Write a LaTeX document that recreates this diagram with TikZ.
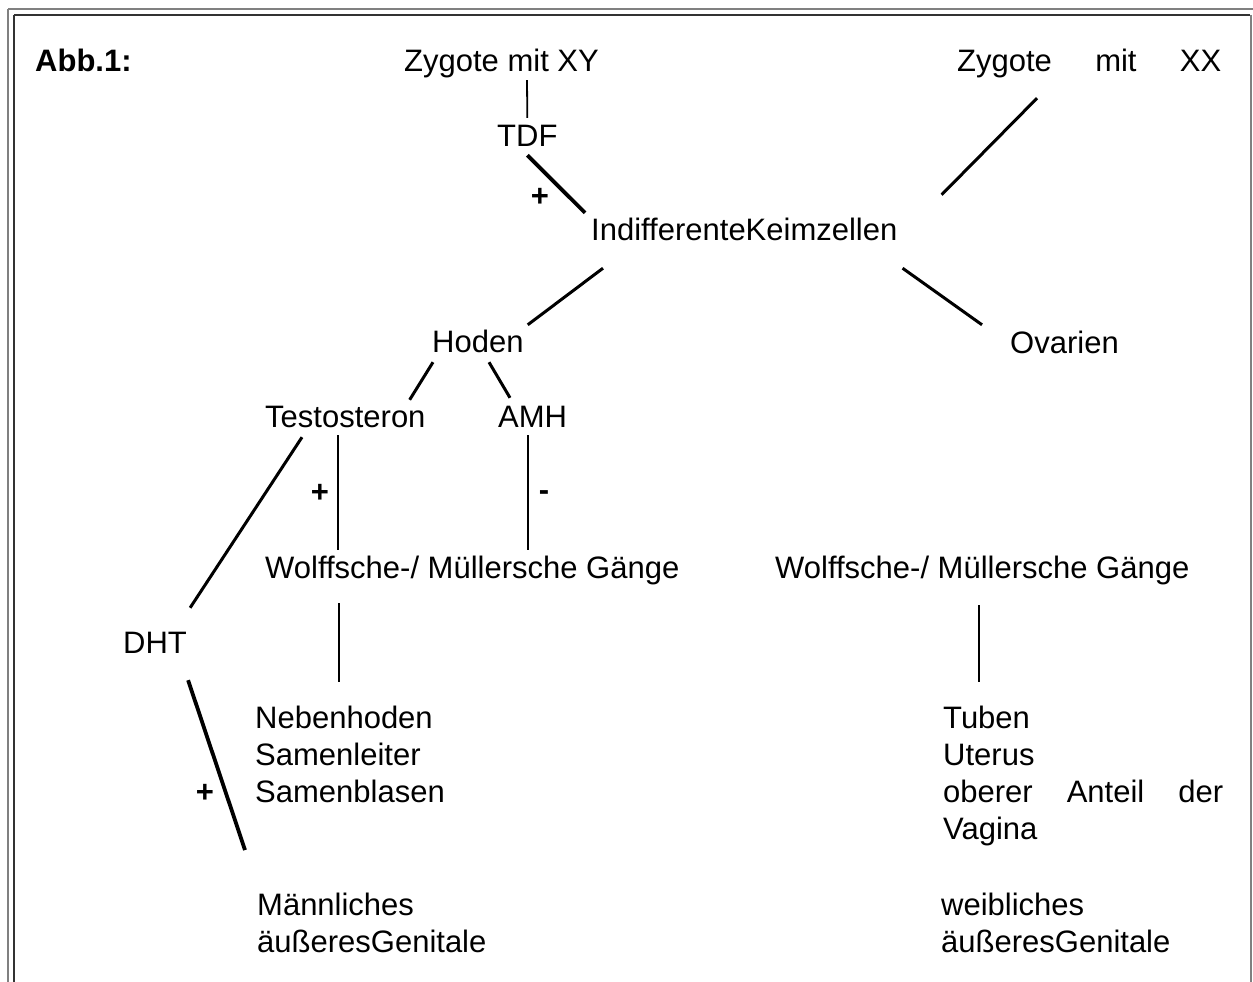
\documentclass[tikz,border=0pt]{standalone}
\usepackage{fontspec}
\setmainfont{Liberation Sans}
\usetikzlibrary{calc}
\begin{document}
\begin{tikzpicture}[x=1pt,y=-1pt,
  lbl/.style={anchor=base west,inner sep=0pt,font=\fontsize{31}{37}\selectfont,text height=23pt,text depth=7pt},
  blk/.style={anchor=base west,inner sep=0pt,font=\fontsize{31}{37}\selectfont},
  sgn/.style={inner sep=0pt,font=\fontsize{31}{37}\selectfont\bfseries},
  thinln/.style={line width=1.8pt,black},
  diag/.style={line width=3pt,black},
  thickln/.style={line width=3.8pt,black},
  framegray/.style={line width=2pt,color=black!50},
  framedark/.style={line width=2pt,color=black!80}]
\useasboundingbox (0,0) rectangle (1253,982);
% frame
\draw[framegray] (8,9.5) -- (1253,9.5);
\draw[framegray] (8,9.5) -- (8,982);
\draw[framedark] (14,15.5) -- (1250,15.5);
\draw[framedark] (14,15.5) -- (14,982);
\draw[framegray] (1251,15) -- (1251,982);
% nodes
\node[lbl,font=\fontsize{31}{37}\selectfont\bfseries] (abb) at (35,72) {Abb.1:};
\node[lbl] (xy) at (404,72) {Zygote mit XY};
\node[lbl] (xx) at (957,72) {\hbox to 264pt{Zygote\hfill mit\hfill XX}};
\node[lbl] (tdf) at (497,146) {TDF};
\node[lbl] (ind) at (591,240) {IndifferenteKeimzellen};
\node[lbl] (hoden) at (432,352) {Hoden};
\node[lbl] (ov) at (1010,353) {Ovarien};
\node[lbl] (testo) at (265,427) {Testosteron};
\node[lbl] (amh) at (498,427) {AMH};
\node[lbl] (wl) at (265,578) {Wolffsche-/ Müllersche Gänge};
\node[lbl] (wr) at (775,578) {Wolffsche-/ Müllersche Gänge};
\node[lbl] (dht) at (123,653) {DHT};
\node[blk] (neb) at (255,728) {\vtop{\hbox{Nebenhoden}\hbox{Samenleiter}\hbox{Samenblasen}}};
\node[blk] (tub) at (943,728) {\vtop{\hbox{Tuben}\hbox{Uterus}\hbox to 280pt{oberer\hfill Anteil\hfill der}\hbox{Vagina}}};
\node[blk] (mann) at (257,915) {\vtop{\hbox{Männliches}\hbox{äußeresGenitale}}};
\node[blk] (weib) at (941,915) {\vtop{\hbox{weibliches}\hbox{äußeresGenitale}}};
\node[sgn] (p1) at (540,197) {+};
\node[sgn] (p2) at (320,493) {+};
\node[sgn] (m1) at (544,496) {-};
\node[sgn] (p3) at (205,793) {+};
% connectors
\draw[thinln] ($(xy.south west)+(123,1)$) -- ($(tdf.north)+(0,-5)$);
\draw[thickln] ($(tdf.south)+(0,2)$) -- ($(ind.north west)+(-6,-4)$);
\draw[diag] ($(xx.south west)+(80,19)$) -- ($(ind.north east)+(44,-22)$);
\draw[diag] ($(ind.south west)+(12,21)$) -- ($(hoden.north east)+(4,-4)$);
\draw[diag] ($(ind.south east)+(5,21)$) -- ($(ov.north west)+(-28,-5)$);
\draw[diag] ($(hoden.south west)+(1,3)$) -- ($(testo.north east)+(-16,-4)$);
\draw[diag] ($(hoden.south west)+(57,3)$) -- ($(amh.north west)+(12,-6)$);
\draw[thinln] ($(testo.south west)+(73,1)$) -- ($(wl.north west)+(73,-5)$);
\draw[thinln] ($(amh.south west)+(30,1)$) -- ($(wl.north west)+(263,-5)$);
\draw[diag] ($(testo.south west)+(37,3)$) -- ($(dht.north east)+(3,-22)$);
\draw[thickln] ($(dht.south east)+(1,20)$) -- ($(mann.base west)+(-12,-65)$);
\draw[thinln] ($(wl.south west)+(74,18)$) -- ($(neb.base west)+(84,-46)$);
\draw[thinln] ($(wr.south west)+(204,20)$) -- ($(tub.base west)+(36,-46)$);
\end{tikzpicture}
\end{document}
